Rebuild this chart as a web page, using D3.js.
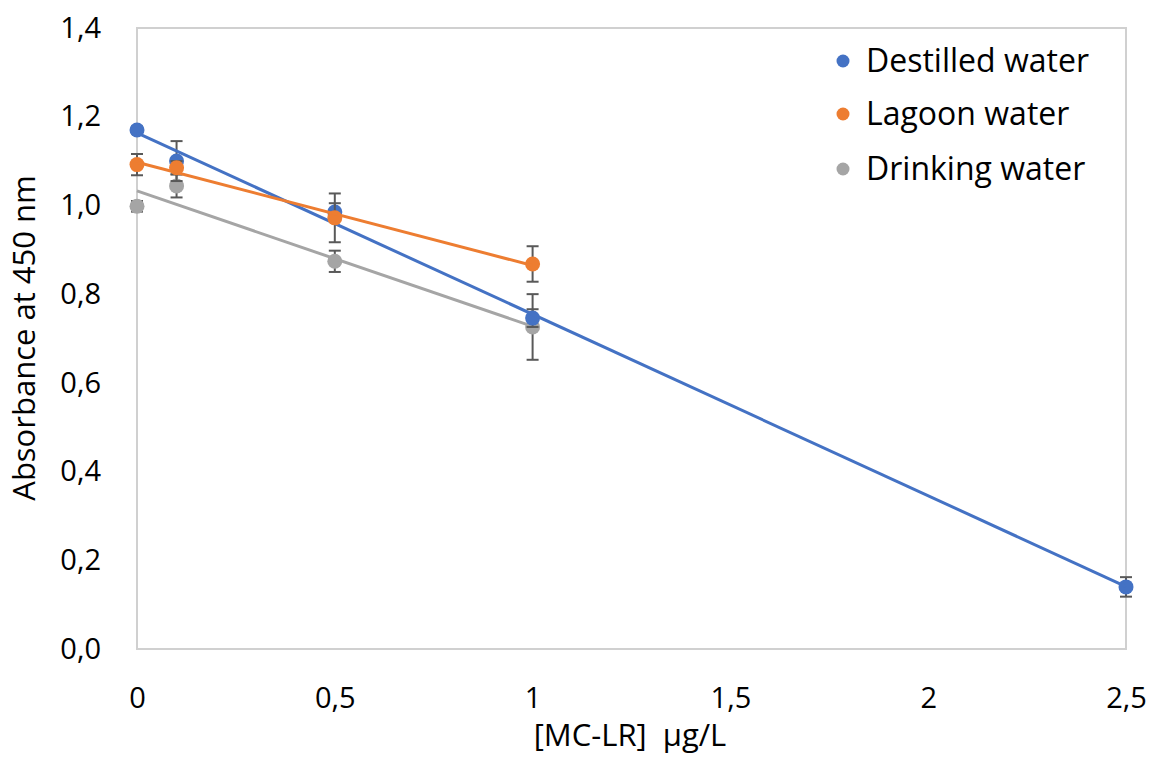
<!DOCTYPE html>
<html>
<head>
<meta charset="utf-8">
<script src="https://cdn.jsdelivr.net/npm/d3@7"></script>
<style>
  body { margin: 0; background: #fff; }
  text { font-family: "Open Sans", sans-serif; fill: #000; }
</style>
</head>
<body>
<svg id="chart" width="1153" height="761"></svg>
<script>
// Data
var seriesNames = ["Destilled water", "Lagoon water", "Drinking water"];
var seriesColors = ["#4472C4", "#ED7D31", "#A5A5A5"];

var xDestilled = [0, 0.1, 0.5, 1, 2.5];
var yDestilled = [1.17, 1.10, 0.985, 0.746, 0.14];
var eDestilled = [0.008, 0.045, 0.02, 0.02, 0.022];

var xLagoon = [0, 0.1, 0.5, 1];
var yLagoon = [1.092, 1.085, 0.972, 0.868];
var eLagoon = [0.024, 0.015, 0.055, 0.04];

var xDrinking = [0, 0.1, 0.5, 1];
var yDrinking = [0.998, 1.044, 0.874, 0.726];
var eDrinking = [0.012, 0.026, 0.024, 0.074];

var xTicks = [0, 0.5, 1, 1.5, 2, 2.5];
var yTicks = [0, 0.2, 0.4, 0.6, 0.8, 1.0, 1.2, 1.4];

var svg = d3.select("#chart");

var margin = {left: 137, right: 1126, top: 28, bottom: 649};

var x = d3.scaleLinear().domain([0, 2.5]).range([margin.left, margin.right]);
var y = d3.scaleLinear().domain([0, 1.4]).range([margin.bottom, margin.top]);

var fmt = function (d) { return d3.format(".1f")(d).replace(".", ","); };
var fmtX = function (d) { return (d % 1 === 0 ? d3.format("d")(d) : d3.format(".1f")(d)).replace(".", ","); };

// plot frame
svg.append("rect")
    .attr("x", margin.left)
    .attr("y", margin.top)
    .attr("width", margin.right - margin.left)
    .attr("height", margin.bottom - margin.top)
    .attr("fill", "none")
    .attr("stroke", "#d0d0d0")
    .attr("stroke-width", 2);

// axes (labels only, Excel style)
var yAxis = svg.append("g")
    .attr("transform", "translate(" + margin.left + ",0)")
    .call(d3.axisLeft(y).tickValues(yTicks).tickFormat(fmt).tickSize(0).tickPadding(36));
yAxis.select(".domain").remove();
yAxis.selectAll("text").style("font-size", "29px").style("font-family", "Open Sans");

var xAxis = svg.append("g")
    .attr("transform", "translate(0," + margin.bottom + ")")
    .call(d3.axisBottom(x).tickValues(xTicks).tickFormat(fmtX).tickSize(0).tickPadding(38));
xAxis.select(".domain").remove();
xAxis.selectAll("text").style("font-size", "29px").style("font-family", "Open Sans");

// axis titles
svg.append("text")
    .attr("transform", "translate(35,338) rotate(-90)")
    .attr("text-anchor", "middle")
    .style("font-size", "31px")
    .text("Absorbance at 450 nm");

svg.append("text")
    .attr("x", 630)
    .attr("y", 746)
    .attr("text-anchor", "middle")
    .style("font-size", "31px")
    .style("white-space", "pre")
    .text("[MC-LR]  \u00b5g/L");

// least squares trendline, like the spreadsheet one
function fit(xs, ys) {
    var mx = d3.mean(xs), my = d3.mean(ys);
    var sxy = d3.sum(xs, function (v, i) { return (v - mx) * (ys[i] - my); });
    var sxx = d3.sum(xs, function (v) { return (v - mx) * (v - mx); });
    var b = sxy / sxx;
    return {a: my - b * mx, b: b};
}

var series = [
    {xs: xDrinking, ys: yDrinking, es: eDrinking, color: seriesColors[2]},
    {xs: xDestilled, ys: yDestilled, es: eDestilled, color: seriesColors[0]},
    {xs: xLagoon, ys: yLagoon, es: eLagoon, color: seriesColors[1]}
];

var line = d3.line()
    .x(function (d) { return x(d[0]); })
    .y(function (d) { return y(d[1]); });

series.forEach(function (s) {
    var g = svg.append("g");
    var pts = s.xs.map(function (v, i) { return {x: v, y: s.ys[i], e: s.es[i]}; });

    // error bars
    var eb = g.selectAll(".err")
        .data(pts)
        .enter()
        .append("g")
        .attr("class", "err")
        .attr("stroke", "#595959")
        .attr("stroke-width", 2);
    eb.append("line")
        .attr("x1", function (d) { return x(d.x); })
        .attr("x2", function (d) { return x(d.x); })
        .attr("y1", function (d) { return y(d.y - d.e); })
        .attr("y2", function (d) { return y(d.y + d.e); });
    eb.append("line")
        .attr("x1", function (d) { return x(d.x) - 6; })
        .attr("x2", function (d) { return x(d.x) + 6; })
        .attr("y1", function (d) { return y(d.y + d.e); })
        .attr("y2", function (d) { return y(d.y + d.e); });
    eb.append("line")
        .attr("x1", function (d) { return x(d.x) - 6; })
        .attr("x2", function (d) { return x(d.x) + 6; })
        .attr("y1", function (d) { return y(d.y - d.e); })
        .attr("y2", function (d) { return y(d.y - d.e); });

    // markers
    g.selectAll("circle")
        .data(pts)
        .enter()
        .append("circle")
        .attr("cx", function (d) { return x(d.x); })
        .attr("cy", function (d) { return y(d.y); })
        .attr("r", 7.5)
        .attr("fill", s.color);

    // trendline
    var f = fit(s.xs, s.ys);
    var x0 = d3.min(s.xs), x1 = d3.max(s.xs);
    g.append("path")
        .attr("d", line([[x0, f.a + f.b * x0], [x1, f.a + f.b * x1]]))
        .attr("fill", "none")
        .attr("stroke", s.color)
        .attr("stroke-width", 3);
});

// legend
var legend = svg.append("g")
    .selectAll("g")
    .data(seriesNames)
    .enter()
    .append("g")
    .attr("transform", function (d, i) { return "translate(843," + [61, 114, 169][i] + ")"; });

legend.append("circle")
    .attr("r", 6.5)
    .attr("fill", function (d, i) { return seriesColors[i]; });

legend.append("text")
    .attr("x", 23)
    .attr("dy", "0.35em")
    .style("font-size", "32px")
    .text(function (d) { return d; });
</script>
</body>
</html>
